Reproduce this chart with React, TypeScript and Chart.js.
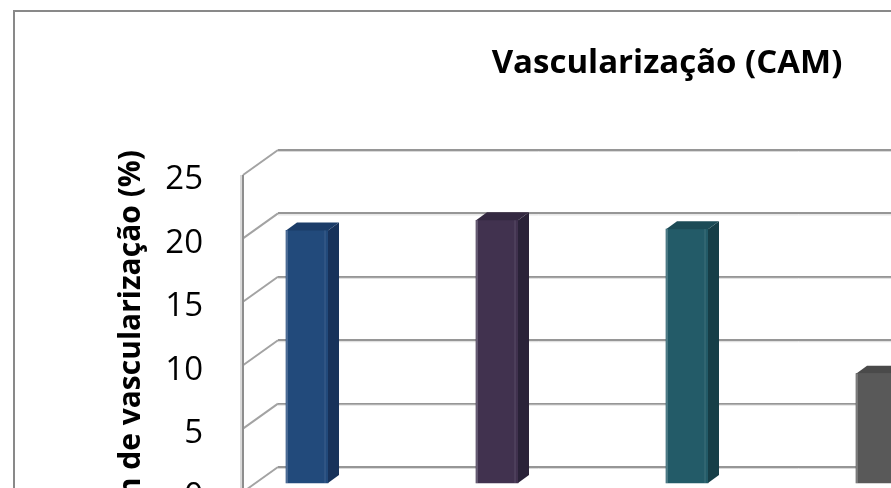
import React, { useEffect, useRef } from "react";
import { Chart, registerables } from "chart.js";

Chart.register(...registerables);

// ---- data ----
const categories = ["Grupo 1", "Grupo 2", "Grupo 3", "Grupo 4"];
const values = [20, 20.8, 20.1, 8.7];
const yTickValues = [0, 5, 10, 15, 20, 25];
const chartTitle = "Vascularização (CAM)";
const yAxisTitle = "Porcentagem de vascularização (%)";

// ---- styles ----
const frontColors = ["#224a7b", "#41324f", "#235b68", "#595959"];
const sideColors = ["#17325a", "#2a2238", "#163e47", "#3e3e3e"];
const topColors = ["#1b3c68", "#342941", "#1c4b56", "#4a4a4a"];
const edgeColors = ["#4b6b95", "#655a72", "#4c7a85", "#7a7a7a"];
const FONT = "'Open Sans'";

// 3D geometry (pixels)
const WALL_DX = -35; // front plane relative to back wall
const WALL_DY = 25;
const BAR_DX = -24; // bar front face relative to back wall
const BAR_DY = 17;
const BAR_DEPTH_X = 11;
const BAR_DEPTH_Y = -8;

const threeD = {
  id: "threeD",
  beforeDatasetsDraw(chart: any) {
    const { ctx, chartArea } = chart;
    const ys = chart.scales.y;
    ctx.save();
    const line = (x1: number, y1: number, x2: number, y2: number) => {
      ctx.beginPath();
      ctx.moveTo(x1, y1);
      ctx.lineTo(x2, y2);
      ctx.stroke();
    };
    ys.ticks.forEach((t: any) => {
      const y = ys.getPixelForValue(t.value);
      ctx.strokeStyle = "#dadada";
      ctx.lineWidth = 1;
      line(chartArea.left, y + 1.5, chartArea.right, y + 1.5);
      ctx.strokeStyle = "#a3a3a3";
      ctx.lineWidth = 2;
      line(chartArea.left, y, chartArea.left + WALL_DX, y + WALL_DY);
    });
    const fx = chartArea.left + WALL_DX;
    ctx.lineWidth = 2;
    ctx.strokeStyle = "#dadada";
    line(fx - 2, chartArea.top + WALL_DY, fx - 2, chartArea.bottom + WALL_DY + 40);
    ctx.strokeStyle = "#8e8e8e";
    line(fx, chartArea.top + WALL_DY, fx, chartArea.bottom + WALL_DY + 40);
    ctx.restore();
    ctx.save();
    ctx.translate(BAR_DX, BAR_DY);
  },
  afterDatasetsDraw(chart: any) {
    const { ctx } = chart;
    const meta = chart.getDatasetMeta(0);
    const poly = (pts: number[][]) => {
      ctx.beginPath();
      ctx.moveTo(pts[0][0], pts[0][1]);
      for (let k = 1; k < pts.length; k++) ctx.lineTo(pts[k][0], pts[k][1]);
      ctx.closePath();
      ctx.fill();
    };
    meta.data.forEach((bar: any, i: number) => {
      const { x, y, base, width } = bar.getProps(["x", "y", "base", "width"], true);
      const l = x - width / 2;
      const r = x + width / 2;
      ctx.fillStyle = sideColors[i];
      poly([
        [r, y],
        [r + BAR_DEPTH_X, y + BAR_DEPTH_Y],
        [r + BAR_DEPTH_X, base + BAR_DEPTH_Y],
        [r, base],
      ]);
      ctx.fillStyle = topColors[i];
      poly([
        [l, y],
        [l + BAR_DEPTH_X, y + BAR_DEPTH_Y],
        [r + BAR_DEPTH_X, y + BAR_DEPTH_Y],
        [r, y],
      ]);
      ctx.fillStyle = edgeColors[i];
      ctx.fillRect(l, y, 2, base - y);
      ctx.globalAlpha = 0.35;
      ctx.fillRect(r - 4, y, 2, base - y);
      ctx.globalAlpha = 1;
    });
    ctx.restore();
  },
};

export default function App() {
  const ref = useRef<HTMLCanvasElement | null>(null);

  useEffect(() => {
    if (!ref.current) return;
    const chart = new Chart(ref.current, {
      type: "bar",
      data: {
        labels: categories,
        datasets: [
          {
            label: chartTitle,
            data: values.map((v, i) => ({ x: i, y: v })),
            backgroundColor: frontColors,
            borderWidth: 0,
            barThickness: 42,
            clip: false as any,
          },
        ],
      },
      options: {
        responsive: false,
        animation: false,
        devicePixelRatio: 1,
        layout: { padding: { left: 0, right: 56, top: 0, bottom: 65 } },
        plugins: {
          legend: { display: false },
          tooltip: { enabled: false },
          title: {
            display: true,
            text: chartTitle,
            color: "#000",
            font: { family: FONT, size: 33, weight: "bold" },
            padding: { top: 32, bottom: 66.4 },
          },
        },
        scales: {
          x: {
            type: "linear",
            offset: false,
            min: -0.279,
            max: 5.2,
            display: false,
          },
          y: {
            min: 0,
            max: 25,
            afterBuildTicks: (s: any) => {
              s.ticks = yTickValues.map((v) => ({ value: v }));
            },
            afterFit: (s: any) => {
              s.width = 263;
            },
            border: { display: false },
            grid: {
              color: "#969696",
              lineWidth: 2,
              drawTicks: true,
              tickLength: 75,
              tickColor: "rgba(0,0,0,0)",
            },
            ticks: {
              color: "#000",
              font: { family: FONT, size: 33 },
              padding: 0,
              labelOffset: 30,
            },
            title: {
              display: true,
              text: yAxisTitle,
              align: "end",
              color: "#000",
              font: { family: FONT, size: 30, weight: "bold" },
              padding: { top: 98, bottom: 0 },
            },
          },
        },
      },
      plugins: [threeD],
    });
    return () => chart.destroy();
  }, []);

  return (
    <div
      style={{
        position: "fixed",
        left: 0,
        top: 0,
        width: 891,
        height: 488,
        overflow: "hidden",
        background: "#fff",
      }}
    >
      <div
        style={{
          position: "absolute",
          left: 13,
          top: 10,
          width: 1360,
          height: 520,
          border: "2px solid #898989",
          background: "#fff",
        }}
      >
        <canvas ref={ref} width={1360} height={520} style={{ display: "block" }} />
      </div>
    </div>
  );
}
